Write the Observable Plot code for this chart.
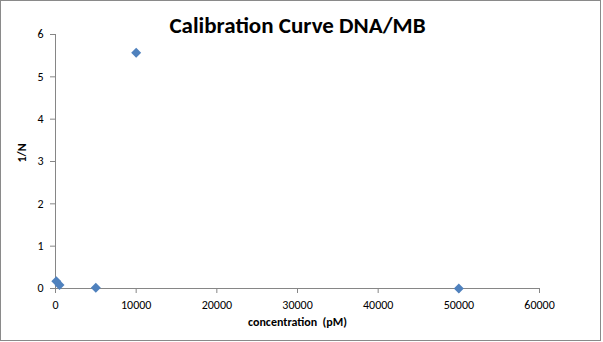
<!DOCTYPE html>
<html>
<head>
<meta charset="utf-8">
<script src="https://cdn.jsdelivr.net/npm/d3@7"></script>
<script src="https://cdn.jsdelivr.net/npm/@observablehq/plot@0.6"></script>
<style>
  html, body { margin: 0; padding: 0; background: #fff; }
  #wrap { position: relative; width: 603px; height: 342px; }
  #border { position: absolute; left: 0; top: 0; width: 601px; height: 341px; border: 1px solid #8a8a8a; box-sizing: border-box; }
  #chart { position: absolute; left: 0; top: 0; }
</style>
</head>
<body>
<div id="wrap"><div id="border"></div><div id="chart"></div></div>
<script>
const concentration = [100, 500, 5000, 10000, 50000];
const invN = [0.17, 0.08, 0.02, 5.57, 0.0];
const xTicks = [0, 10000, 20000, 30000, 40000, 50000, 60000];
const yTicks = [0, 1, 2, 3, 4, 5, 6];
const title = "Calibration Curve DNA/MB";
const xLabel = "concentration  (pM)";
const yLabel = "1/N";

const data = concentration.map((c, i) => ({c, v: invN[i]}));
const font = "Calibri, Carlito, Lato, 'Open Sans', sans-serif";
const axisColor = "#868686";

const chart = Plot.plot({
  width: 603,
  height: 342,
  marginLeft: 55,
  marginRight: 64,
  marginTop: 34,
  marginBottom: 54,
  style: {fontFamily: font, fontSize: "12px", color: "#000", background: "transparent"},
  x: {domain: [0, 60000]},
  y: {domain: [0, 6]},
  marks: [
    Plot.ruleX([0], {stroke: axisColor}),
    Plot.ruleY([0], {stroke: axisColor}),
    Plot.axisX({ticks: xTicks, tickFormat: d => String(d), tickSize: 5, tickPadding: 7, stroke: axisColor, fill: "#000", label: null, fontSize: 12}),
    Plot.axisY({ticks: yTicks, tickFormat: d => String(d), tickSize: 5, tickPadding: 7, stroke: axisColor, fill: "#000", label: null, fontSize: 12}),
    Plot.dot(data, {x: "c", y: "v", symbol: "diamond2", r: 4.5, fill: "#4F81BD", stroke: null}),
    Plot.text([title], {frameAnchor: "top", dy: -2, fontSize: 23, fontWeight: "bold", fill: "#000", lineAnchor: "bottom"}),
    Plot.text([xLabel], {frameAnchor: "bottom", dy: 37, fontSize: 12, fontWeight: "bold", fill: "#000"}),
    Plot.text([yLabel], {frameAnchor: "left", dx: -33, dy: 1, rotate: -90, fontSize: 12, fontWeight: "bold", fill: "#000"})
  ]
});
document.getElementById("chart").appendChild(chart);
</script>
</body>
</html>
